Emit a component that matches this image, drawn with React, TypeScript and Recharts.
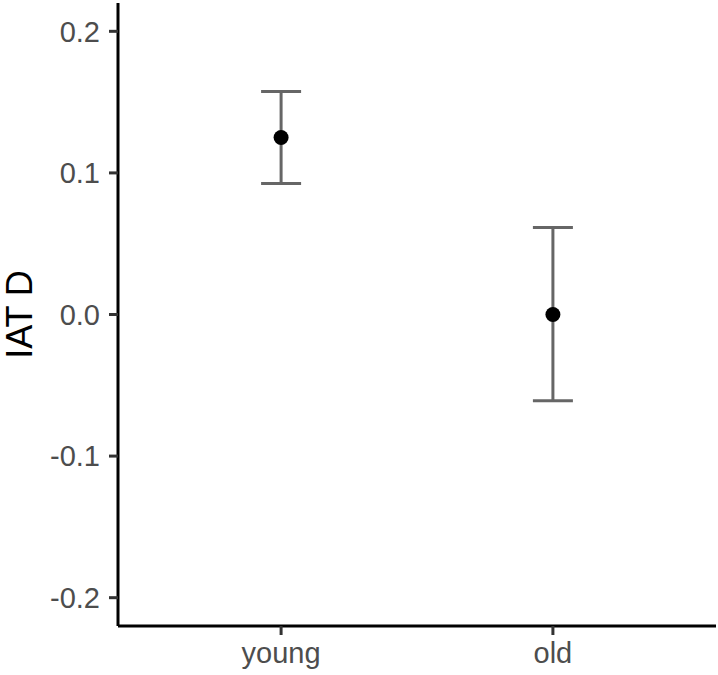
import React from "react";
import {
  ComposedChart,
  ErrorBar,
  Label,
  Scatter,
  XAxis,
  YAxis,
} from "recharts";

const groups = ["young", "old"];
const means = [0.125, 0.0];
const ciLow = [0.0925, -0.061];
const ciHigh = [0.1575, 0.0615];
const yTicks = [-0.2, -0.1, 0.0, 0.1, 0.2];

const chartData = groups.map((name, i) => ({
  pos: i + 1,
  name,
  mean: means[i],
  err: [means[i] - ciLow[i], ciHigh[i] - means[i]],
}));

const FONT = "'Liberation Sans', Arial, sans-serif";

const PointShape = ({ cx, cy }: any) => (
  <circle cx={cx} cy={cy} r={7.5} fill="#000" />
);

const YTitle = ({ viewBox }: any) => {
  const x = viewBox.x + 32;
  const y = viewBox.y + viewBox.height / 2;
  return (
    <text
      x={x}
      y={y}
      transform={`rotate(-90, ${x}, ${y})`}
      textAnchor="middle"
      fontSize={36}
      fontFamily={FONT}
      fill="#000"
    >
      IAT D
    </text>
  );
};

const App = () => {
  return (
    <div style={{ position: "absolute", left: 0, top: 0 }}>
      <ComposedChart
        width={718}
        height={675}
        data={chartData}
        margin={{ top: 3, right: 2, bottom: 0, left: 0 }}
      >
        <XAxis
          dataKey="pos"
          type="number"
          domain={[0.4, 2.6]}
          ticks={[1, 2]}
          tickFormatter={(v: number) => groups[v - 1]}
          height={49}
          axisLine={{ stroke: "#000", strokeWidth: 3 }}
          tickLine={{ stroke: "#333", strokeWidth: 3 }}
          tickSize={9}
          tickMargin={7}
          tick={{ fill: "#4D4D4D", fontSize: 29, fontFamily: FONT }}
          allowDataOverflow
        />
        <YAxis
          type="number"
          domain={[-0.22, 0.22]}
          ticks={yTicks}
          tickFormatter={(v: number) => v.toFixed(1)}
          width={118}
          axisLine={{ stroke: "#000", strokeWidth: 3 }}
          tickLine={{ stroke: "#333", strokeWidth: 3 }}
          tickSize={9}
          tickMargin={9}
          tick={{ fill: "#4D4D4D", fontSize: 29, fontFamily: FONT }}
          allowDataOverflow
        >
          <Label content={<YTitle />} />
        </YAxis>
        <Scatter
          dataKey="mean"
          shape={<PointShape />}
          isAnimationActive={false}
        >
          <ErrorBar
            dataKey="err"
            direction="y"
            width={20}
            stroke="#666"
            strokeWidth={3}
            isAnimationActive={false}
          />
        </Scatter>
      </ComposedChart>
    </div>
  );
};

export default App;
